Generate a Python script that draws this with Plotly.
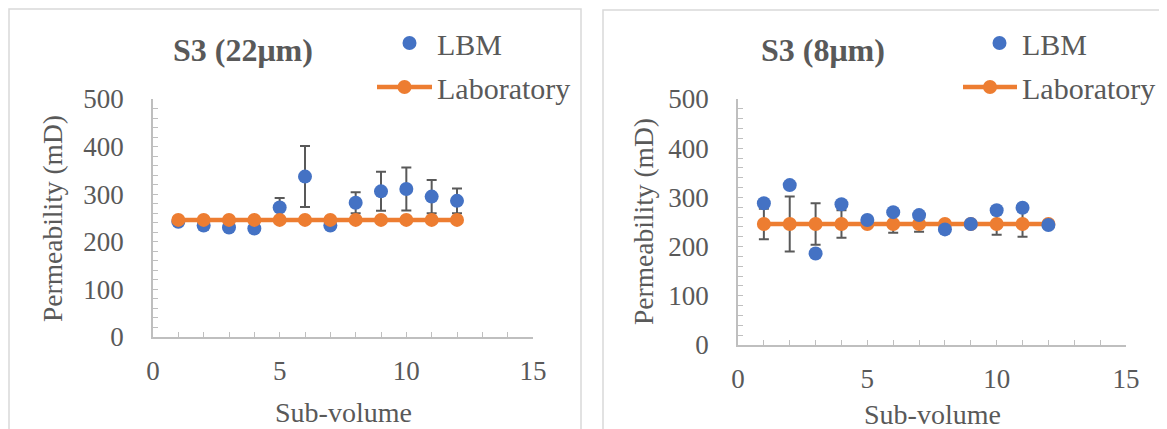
import plotly.graph_objects as go

W, H = 1167, 429
OFF = 8  # page body margin

sub_volume = [1, 2, 3, 4, 5, 6, 7, 8, 9, 10, 11, 12]

# Left panel: S3 (22 µm)
lbm_22 = [242, 234, 230, 228, 272, 337, 234, 282, 306, 311, 295, 286]
lbm_22_err = [6, 8, 6, 6, 20, 64, 6, 22, 41, 45, 35, 26]
lab_22 = [246] * 12

# Right panel: S3 (8 µm)
lbm_8 = [288, 325, 186, 286, 254, 270, 264, 235, 246, 274, 279, 244]
lab_8 = [246] * 12
lab_8_err = [31, 56, 42, 28, 6, 18, 16, 4, 4, 22, 26, 4]

titles = ["S3 (22\u03bcm)", "S3 (8\u03bcm)"]
x_ticks = [0, 5, 10, 15]
y_ticks = [0, 100, 200, 300, 400, 500]

BLUE = "#4472C4"
ORANGE = "#ED7D31"
TXT = "#595959"
AX = "#BFBFBF"
FONT = "Liberation Serif"


def px_x(p):
    return (p - OFF) / W


def px_y(p):
    return 1 - (p - OFF) / H


fig = go.Figure()

# Left panel traces (LBM below, Laboratory on top)
fig.add_trace(go.Scatter(
    x=sub_volume, y=lbm_22, mode="markers", name="LBM",
    marker=dict(color=BLUE, size=14),
    error_y=dict(type="data", array=lbm_22_err, color="#595959", thickness=2, width=5),
    xaxis="x", yaxis="y", legend="legend"))
fig.add_trace(go.Scatter(
    x=sub_volume, y=lab_22, mode="lines+markers", name="Laboratory",
    line=dict(color=ORANGE, width=4.5), marker=dict(color=ORANGE, size=14),
    xaxis="x", yaxis="y", legend="legend2"))

# Right panel traces (Laboratory below, LBM on top)
fig.add_trace(go.Scatter(
    x=sub_volume, y=lab_8, mode="lines+markers", name="Laboratory",
    line=dict(color=ORANGE, width=4.5), marker=dict(color=ORANGE, size=14),
    error_y=dict(type="data", array=lab_8_err, color="#595959", thickness=2, width=5),
    xaxis="x2", yaxis="y2", legend="legend4"))
fig.add_trace(go.Scatter(
    x=sub_volume, y=lbm_8, mode="markers", name="LBM",
    marker=dict(color=BLUE, size=14),
    xaxis="x2", yaxis="y2", legend="legend3"))

axis_common = dict(
    showline=True, linecolor=AX, linewidth=1.5, showgrid=False, zeroline=False,
    ticks="inside", ticklen=5, tickcolor=AX, tickwidth=1.2, automargin=False,
    tickfont=dict(family=FONT, size=27, color=TXT), fixedrange=True,
)

fig.update_layout(
    width=W, height=H, autosize=False,
    margin=dict(l=0, r=0, t=0, b=0, pad=0, autoexpand=False),
    paper_bgcolor="white", plot_bgcolor="white",
    font=dict(family=FONT, color=TXT),
    xaxis=dict(domain=[px_x(153), px_x(533)], range=[0, 15], tickvals=x_ticks,
               minor=dict(dtick=1, ticks="inside", ticklen=5, tickcolor=AX),
               ticklabelstandoff=9, anchor="y", **axis_common),
    yaxis=dict(domain=[px_y(337), px_y(99)], range=[0, 500], tickvals=y_ticks,
               minor=dict(dtick=20, ticks="inside", ticklen=5, tickcolor=AX),
               ticklabelstandoff=22, anchor="x", **axis_common),
    xaxis2=dict(domain=[px_x(738), px_x(1126)], range=[0, 15], tickvals=x_ticks,
                minor=dict(dtick=1, ticks="inside", ticklen=5, tickcolor=AX),
                ticklabelstandoff=9, anchor="y2", **axis_common),
    yaxis2=dict(domain=[px_y(345), px_y(99)], range=[0, 500], tickvals=y_ticks,
                minor=dict(dtick=20, ticks="inside", ticklen=5, tickcolor=AX),
                ticklabelstandoff=22, anchor="x2", **axis_common),
    showlegend=True,
)

leg_common = dict(font=dict(family=FONT, size=30, color=TXT), bgcolor="rgba(0,0,0,0)",
                  xanchor="left", yanchor="middle", borderwidth=0)
fig.update_layout(
    legend=dict(x=px_x(382), y=px_y(43), itemwidth=45, **leg_common),
    legend2=dict(x=px_x(372), y=px_y(87), itemwidth=55, **leg_common),
    legend3=dict(x=px_x(977), y=px_y(43), itemwidth=35, **leg_common),
    legend4=dict(x=px_x(958), y=px_y(87), itemwidth=54, **leg_common),
)

# Panel borders
fig.add_shape(type="rect", xref="paper", yref="paper",
              x0=px_x(9), x1=px_x(581), y0=px_y(445), y1=px_y(9),
              line=dict(color="#D9D9D9", width=1.5), layer="below")
fig.add_shape(type="rect", xref="paper", yref="paper",
              x0=px_x(603), x1=px_x(1185), y0=px_y(445), y1=px_y(10),
              line=dict(color="#D9D9D9", width=1.5), layer="below")

ann_common = dict(xref="paper", yref="paper", showarrow=False, xanchor="center", yanchor="middle")

# Titles
fig.add_annotation(x=px_x(243), y=px_y(50), text="<b>" + titles[0] + "</b>",
                   font=dict(family=FONT, size=32, color=TXT), **ann_common)
fig.add_annotation(x=px_x(823), y=px_y(50), text="<b>" + titles[1] + "</b>",
                   font=dict(family=FONT, size=32, color=TXT), **ann_common)

# Axis titles
for xc, yc in [(52, 219), (643, 222)]:
    fig.add_annotation(x=px_x(xc), y=px_y(yc), text="Permeability (mD)", textangle=-90,
                       font=dict(family=FONT, size=27.5, color=TXT), **ann_common)
for xc, yc in [(343, 412), (932, 414)]:
    fig.add_annotation(x=px_x(xc), y=px_y(yc), text="Sub-volume",
                       font=dict(family=FONT, size=28, color=TXT), **ann_common)

fig.write_html("out.html")
